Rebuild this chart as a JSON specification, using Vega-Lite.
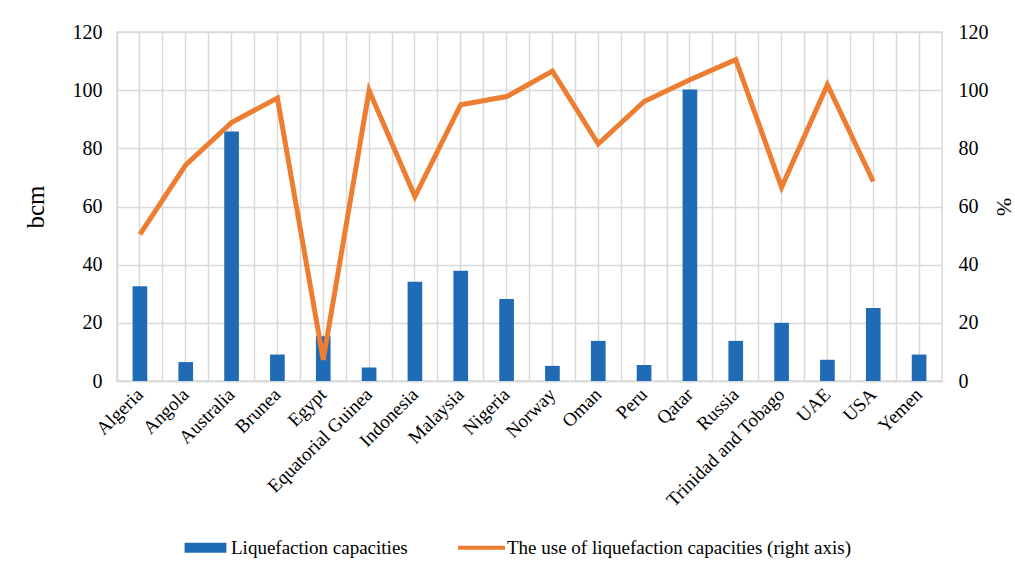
{
  "$schema": "https://vega.github.io/schema/vega-lite/v6.json",
  "width": 825,
  "height": 349,
  "autosize": {"type": "none"},
  "padding": {"left": 117, "top": 32, "right": 73, "bottom": 181},
  "background": "white",
  "config": {
    "font": "Liberation Serif",
    "view": {"stroke": "#d9d9d9", "strokeWidth": 1.5},
    "axis": {
      "labelFont": "Liberation Serif",
      "labelFontSize": 20,
      "labelColor": "black",
      "titleFont": "Liberation Serif",
      "titleColor": "black",
      "titleFontWeight": "normal",
      "gridColor": "#d9d9d9",
      "gridWidth": 1.5,
      "ticks": false
    },
    "legend": {
      "labelFont": "Liberation Serif",
      "labelFontSize": 19,
      "labelColor": "black",
      "labelLimit": 500
    }
  },
  "data": {
    "values": [
      {"country": "Algeria", "cap": 32.6, "use": 50.4},
      {"country": "Angola", "cap": 6.5, "use": 74.3},
      {"country": "Australia", "cap": 85.8, "use": 88.9},
      {"country": "Brunea", "cap": 9.1, "use": 97.3},
      {"country": "Egypt", "cap": 15.4, "use": 7.3},
      {"country": "Equatorial Guinea", "cap": 4.6, "use": 99.9},
      {"country": "Indonesia", "cap": 34.1, "use": 63.4},
      {"country": "Malaysia", "cap": 37.9, "use": 95.0},
      {"country": "Nigeria", "cap": 28.2, "use": 97.8},
      {"country": "Norway", "cap": 5.2, "use": 106.6},
      {"country": "Oman", "cap": 13.8, "use": 81.5},
      {"country": "Peru", "cap": 5.5, "use": 96.1},
      {"country": "Qatar", "cap": 100.2, "use": 103.6},
      {"country": "Russia", "cap": 13.8, "use": 110.5},
      {"country": "Trinidad and Tobago", "cap": 20.0, "use": 66.6},
      {"country": "UAE", "cap": 7.3, "use": 101.9},
      {"country": "USA", "cap": 25.1, "use": 68.6},
      {"country": "Yemen", "cap": 9.1, "use": null}
    ]
  },
  "layer": [
    {
      "mark": {"type": "bar", "width": {"band": 0.32}},
      "encoding": {
        "x": {
          "field": "country",
          "type": "nominal",
          "sort": null,
          "scale": {"paddingInner": 0, "paddingOuter": 0},
          "axis": {
            "title": null,
            "labelAngle": -45,
            "labelAlign": "right",
            "labelBaseline": "middle",
            "labelPadding": 10,
            "labelFontSize": 19,
            "grid": true,
            "bandPosition": 0,
            "domainColor": "#d9d9d9",
            "domainWidth": 1.5
          }
        },
        "y": {
          "field": "cap",
          "type": "quantitative",
          "scale": {"domain": [0, 120]},
          "axis": {
            "title": "bcm",
            "titleFontSize": 25,
            "titlePadding": 24,
            "values": [0, 20, 40, 60, 80, 100, 120],
            "labelPadding": 15,
            "domain": false,
            "grid": true
          }
        },
        "color": {
          "datum": "Liquefaction capacities",
          "type": "nominal",
          "scale": {
            "domain": ["Liquefaction capacities", "The use of liquefaction capacities (right axis)"],
            "range": ["#1f6bb5", "#ed7d31"]
          },
          "legend": {
            "title": null,
            "orient": "none",
            "legendX": 65,
            "legendY": 492,
            "direction": "horizontal",
            "columnPadding": 50,
            "symbolSize": 2209,
            "labelOffset": 2,
            "labelFont": "Liberation Serif",
            "labelFontSize": 19,
            "encode": {
              "labels": {
                "update": {
                  "font": {"value": "Liberation Serif"}
                }
              },
              "symbols": {
                "update": {
                  "shape": {"signal": "datum.value === 'Liquefaction capacities' ? 'M-0.89,-0.21H0.89V0.21H-0.89Z' : 'M-1,-0.09H1V0.09H-1Z'"},
                  "fill": {"scale": "color", "field": "value"},
                  "stroke": {"value": "transparent"},
                  "strokeWidth": {"value": 0}
                }
              }
            }
          }
        }
      }
    },
    {
      "mark": {"type": "line", "strokeWidth": 5, "strokeJoin": "miter"},
      "encoding": {
        "x": {
          "field": "country",
          "type": "nominal",
          "sort": null,
          "axis": {
            "orient": "top",
            "title": null,
            "labels": false,
            "domain": false,
            "grid": true,
            "bandPosition": 0.5
          }
        },
        "y": {
          "field": "use",
          "type": "quantitative",
          "scale": {"domain": [0, 120]},
          "axis": {
            "orient": "right",
            "title": "%",
            "titleFontSize": 22,
            "titlePadding": 3,
            "values": [0, 20, 40, 60, 80, 100, 120],
            "labelPadding": 16,
            "domain": false,
            "grid": false
          }
        },
        "color": {"datum": "The use of liquefaction capacities (right axis)", "type": "nominal"}
      }
    }
  ],
  "resolve": {"scale": {"y": "independent"}, "axis": {"x": "independent"}}
}
